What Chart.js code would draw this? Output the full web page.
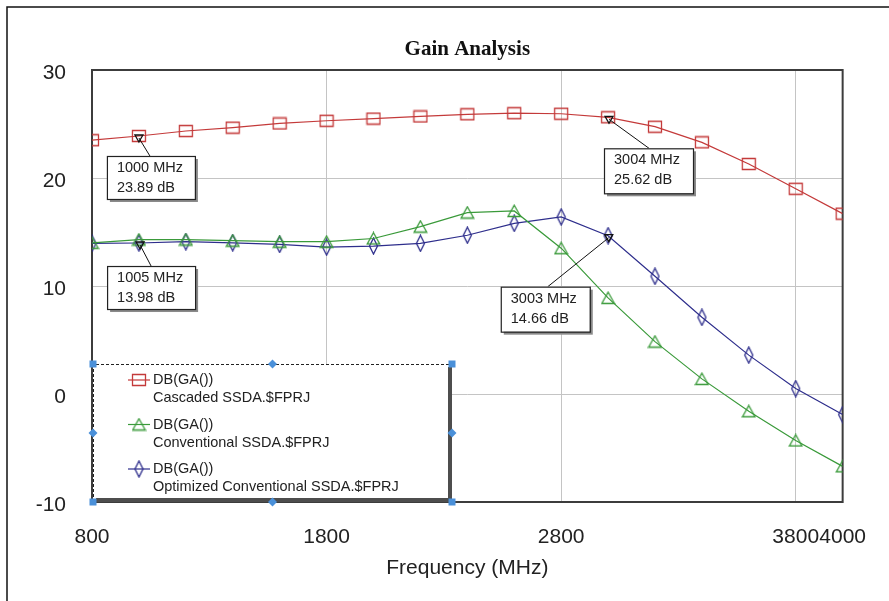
<!DOCTYPE html>
<html><head><meta charset="utf-8">
<script src="https://cdn.jsdelivr.net/npm/chart.js@4.4.1/dist/chart.umd.min.js"></script>
<style>html,body{margin:0;padding:0;background:#fff;}#wrap{width:889px;height:601px;position:relative;}</style>
</head><body><div id="wrap"><canvas id="c" width="889" height="601"></canvas></div>
<script>
// ---- data ----
const frequencies = [800,1000,1200,1400,1600,1800,2000,2200,2400,2600,2800,3000,3200,3400,3600,3800,4000];
const cascadedGain = [23.5,23.89,24.35,24.66,25.05,25.3,25.5,25.7,25.9,26.0,25.95,25.62,24.75,23.3,21.3,19.0,16.7];
const conventionalGain = [14.0,14.3,14.3,14.2,14.1,14.1,14.4,15.5,16.8,16.95,13.5,8.9,4.85,1.4,-1.6,-4.3,-6.7];
const optimizedGain = [13.95,13.98,14.1,14.0,13.85,13.6,13.7,13.95,14.7,15.8,16.4,14.66,10.9,7.1,3.6,0.5,-1.9];
const measureName = 'DB(GA())';
const seriesNames = ['Cascaded SSDA.$FPRJ','Conventional SSDA.$FPRJ','Optimized Conventional SSDA.$FPRJ'];
const xTickValues = [800,1800,2800,3800,4000];
const yTickValues = [-10,0,10,20,30];
const markerFreqs = [1000,1005,3004,3003];
const markerGains = [23.89,13.98,25.62,14.66];
const chartTitle = 'Gain Analysis';
const xAxisTitle = 'Frequency (MHz)';

// ---- styles ----
const FONT = "Arial, 'Liberation Sans', sans-serif";
const colors = ['#c43a3a','#3a9a3a','#2e2e8c'];
const markerKinds = ['square','triangle','diamond'];
// annotation box layout: offsets from marker pixel
const boxLayout = [
  {dx:-32, dy:20, w:88, h:43, lx:43},
  {dx:-33, dy:23, w:88, h:43, lx:44},
  {dx:-5,  dy:31, w:89, h:45, lx:45},
  {dx:-108,dy:51, w:89, h:45, lx:47}
];

function markerCanvas(kind, color){
  const c = document.createElement('canvas');
  let w, h;
  if (kind==='square'){w=16;h=14;} else if(kind==='triangle'){w=15;h=14;} else {w=11;h=18;}
  c.width=w; c.height=h;
  const g=c.getContext('2d');
  g.strokeStyle=color; g.lineWidth=1.3; g.beginPath();
  if (kind==='square'){ g.rect(1.5,1.5,w-3,h-3); }
  else if (kind==='triangle'){ g.moveTo(w/2,1.2); g.lineTo(w-1.2,h-1.5); g.lineTo(1.2,h-1.5); g.closePath(); }
  else { g.moveTo(w/2,1); g.lineTo(w-1.5,h/2); g.lineTo(w/2,h-1); g.lineTo(1.5,h/2); g.closePath(); }
  g.stroke();
  return c;
}
const markerImgs = markerKinds.map((k,i)=>markerCanvas(k,colors[i]));

function toXY(vals){ return frequencies.map((f,i)=>({x:f,y:vals[i]})); }
const seriesValues = [cascadedGain, conventionalGain, optimizedGain];

const datasets = seriesValues.map((v,i)=>({
  label: measureName + '\n' + seriesNames[i],
  data: toXY(v),
  borderColor: colors[i],
  borderWidth: 1.2,
  pointStyle: markerImgs[i],
  pointRadius: 6,
  pointBackgroundColor: 'rgba(0,0,0,0)',
  pointBorderColor: colors[i],
  tension: 0
}));

const decor = {
  id:'decor',
  beforeDraw(chart){
    const ctx=chart.ctx;
    ctx.save();
    ctx.fillStyle='#fff'; ctx.fillRect(0,0,chart.width,chart.height);
    ctx.strokeStyle='#111'; ctx.lineWidth=1.5;
    ctx.beginPath(); ctx.moveTo(7,chart.height); ctx.lineTo(7,7); ctx.lineTo(chart.width,7); ctx.stroke();
    const a=chart.chartArea;
    ctx.fillStyle='#111';
    ctx.font="bold 21px 'Times New Roman', 'Liberation Serif', serif";
    ctx.textAlign='center'; ctx.textBaseline='middle';
    ctx.fillText(chartTitle,(a.left+a.right)/2,50);
    ctx.restore();
  },
  beforeDatasetsDraw(chart){
    const ctx=chart.ctx, a=chart.chartArea;
    ctx.save();
    ctx.strokeStyle='#3c3c3c'; ctx.lineWidth=2;
    ctx.strokeRect(a.left,a.top,a.right-a.left,a.bottom-a.top);
    ctx.restore();
  },
  afterDatasetsDraw(chart){
    const ctx=chart.ctx, a=chart.chartArea;
    const xs=chart.scales.x, ys=chart.scales.y;
    ctx.save();
    // annotations
    markerFreqs.forEach((f,i)=>{
      const px=xs.getPixelForValue(f), py=ys.getPixelForValue(markerGains[i]);
      const L=boxLayout[i];
      const bx=px+L.dx, by=py+L.dy;
      ctx.strokeStyle='#111'; ctx.lineWidth=1;
      ctx.beginPath(); ctx.moveTo(px,py+2); ctx.lineTo(bx+L.lx, by); ctx.stroke();
      ctx.beginPath(); ctx.moveTo(px-4,py-1); ctx.lineTo(px+4,py-1); ctx.lineTo(px,py+6); ctx.closePath();
      ctx.lineWidth=1.3; ctx.stroke();
      ctx.fillStyle='#8a8a8a';
      ctx.fillRect(bx+3,by+3,L.w,L.h);
      ctx.fillStyle='#fff';
      ctx.fillRect(bx,by,L.w,L.h);
      ctx.strokeStyle='#222'; ctx.lineWidth=1.2;
      ctx.strokeRect(bx+0.5,by+0.5,L.w,L.h);
      ctx.fillStyle='#222'; ctx.font='14.5px '+FONT;
      ctx.textAlign='left'; ctx.textBaseline='middle';
      ctx.fillText(f+' MHz', bx+10, by+12);
      ctx.fillText(markerGains[i].toFixed(2)+' dB', bx+10, by+32);
    });
    // legend box
    const lx=a.left+1, ly=364, lw=359, lh=a.bottom-364;
    ctx.fillStyle='#fff'; ctx.fillRect(lx,ly,lw,lh);
    ctx.strokeStyle='#222'; ctx.lineWidth=1; ctx.setLineDash([3,2]);
    ctx.beginPath(); ctx.moveTo(lx+0.5,ly+lh); ctx.lineTo(lx+0.5,ly+0.5); ctx.lineTo(lx+lw,ly+0.5); ctx.stroke();
    ctx.setLineDash([]);
    ctx.fillStyle='#4d4d4d';
    ctx.fillRect(lx+lw-4,ly+3,4,lh-3);
    ctx.fillRect(lx+3,ly+lh-4,lw-3,4);
    chart.data.datasets.forEach((ds,i)=>{
      const y0=ly+16+i*44.5;
      ctx.strokeStyle=colors[i]; ctx.lineWidth=1.2;
      ctx.beginPath(); ctx.moveTo(lx+35,y0); ctx.lineTo(lx+57,y0); ctx.stroke();
      const img=markerImgs[i];
      ctx.drawImage(img, lx+46-img.width/2, y0-img.height/2);
      ctx.fillStyle='#222'; ctx.font='14.5px '+FONT;
      ctx.textAlign='left'; ctx.textBaseline='middle';
      const parts=ds.label.split('\n');
      ctx.fillText(parts[0], lx+60, y0);
      ctx.fillText(parts[1], lx+60, y0+18);
    });
    // selection handles
    ctx.fillStyle='#4a90d9';
    const corners=[[lx,ly],[lx+lw,ly],[lx,ly+lh],[lx+lw,ly+lh]];
    corners.forEach(([x,y])=>ctx.fillRect(x-3.5,y-3.5,7,7));
    const mids=[[lx+lw/2,ly],[lx,ly+lh/2],[lx+lw,ly+lh/2],[lx+lw/2,ly+lh]];
    mids.forEach(([x,y])=>{ctx.beginPath();ctx.moveTo(x,y-4.5);ctx.lineTo(x+4.5,y);ctx.lineTo(x,y+4.5);ctx.lineTo(x-4.5,y);ctx.closePath();ctx.fill();});
    ctx.restore();
  }
};

new Chart(document.getElementById('c'), {
  type:'line',
  data:{datasets},
  options:{
    responsive:false, animation:false, events:[],
    layout:{padding:{left:0,top:70,right:45,bottom:0}},
    plugins:{legend:{display:false}, tooltip:{enabled:false}, title:{display:false}},
    scales:{
      x:{
        type:'linear', min:800, max:4000,
        afterFit(s){ s.height=99; },
        afterBuildTicks(s){ s.ticks = xTickValues.map(v=>({value:v})); },
        ticks:{ autoSkip:false, maxRotation:0, padding:23, color:'#222', font:{family:FONT,size:21}, callback:v=>String(v) },
        grid:{ color:'#c4c4c4', lineWidth:1, drawTicks:false },
        border:{display:false},
        title:{ display:true, text:xAxisTitle, color:'#222', font:{family:FONT,size:21}, padding:{top:0,bottom:20} }
      },
      y:{
        type:'linear', min:-10, max:30,
        afterFit(s){ s.width=92; },
        afterBuildTicks(s){ s.ticks = yTickValues.map(v=>({value:v})); },
        ticks:{ padding:26, labelOffset:3, color:'#222', font:{family:FONT,size:21}, callback:v=>String(v) },
        grid:{ color:'#c4c4c4', lineWidth:1, drawTicks:false },
        border:{display:false}
      }
    }
  },
  plugins:[decor]
});
</script></body></html>
